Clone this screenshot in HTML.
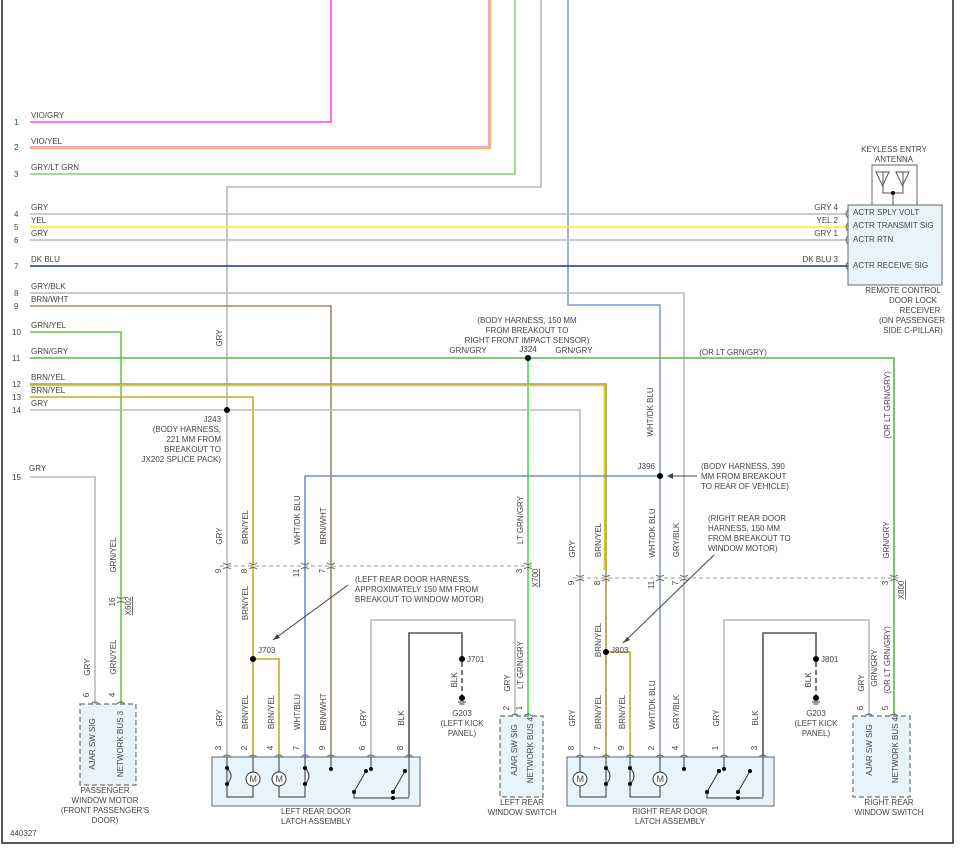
<!DOCTYPE html>
<html><head><meta charset="utf-8"><style>
html,body{margin:0;padding:0;background:#fff}
svg{display:block;font-family:"Liberation Sans",sans-serif}
text{font-size:8px;fill:#444}
.w{fill:none;stroke-width:1.6}
</style></head><body>
<svg width="961" height="850" viewBox="0 0 961 850" xmlns="http://www.w3.org/2000/svg">
<rect x="2" y="-2" width="951" height="845" fill="none" stroke="#222" stroke-width="1.5"/>

<!-- wires top -->
<polyline class="w" stroke="#ff44ee" points="30,122 331,122 331,0"/>
<polyline class="w" stroke="#ff88cc" points="30,147 489,147 489,0"/>
<polyline class="w" stroke="#f0c060" stroke-width="0.6" points="30,148.5 490.5,148.5 490.5,0"/>
<polyline class="w" stroke="#77dd66" points="30,174 515,174 515,0"/>
<polyline class="w" stroke="#bbb" points="541,0 541,187 227,187 227,757"/>
<polyline class="w" stroke="#8899dd" points="568,0 568,305 660,305 660,757"/>
<polyline class="w" stroke="#bbb" points="30,214 848,214"/>
<polyline class="w" stroke="#ffee22" points="30,227 848,227"/>
<polyline class="w" stroke="#bbb" points="30,240 848,240"/>
<polyline class="w" stroke="#223399" points="30,266 848,266"/>
<polyline class="w" stroke="#bbb" points="30,293 684,293 684,757"/>
<polyline class="w" stroke="#998866" points="30,306 331,306 331,757"/>
<polyline class="w" stroke="#66cc44" points="30,332 121,332 121,704"/>
<polyline class="w" stroke="#55bb44" points="30,358 894,358 894,716"/>
<polyline class="w" stroke="#44dd44" points="528,358 528,716"/>
<polyline class="w" stroke="#aa9944" points="30,384 606,384 606,757"/>
<polyline class="w" stroke="#ddcc22" stroke-width="0.8" points="30,385.5 604.5,385.5 604.5,570"/>
<polyline class="w" stroke="#ccaa22" points="30,397 253,397 253,757"/>
<polyline class="w" stroke="#bbb" points="30,410 580,410 580,757"/>
<polyline class="w" stroke="#bbb" points="30,477 95,477 95,704"/>
<polyline class="w" stroke="#7788dd" points="660,476 305,476 305,757"/>
<polyline class="w" stroke="#ccaa22" points="253,659 279,659 279,757"/>
<polyline class="w" stroke="#ccaa22" points="606,652 630,652 630,757"/>
<polyline class="w" stroke="#bbb" points="371,757 371,620 515,620 515,716"/>
<polyline class="w" stroke="#555" points="409,757 409,633 462,633 462,659"/>
<line x1="462" y1="662" x2="462" y2="696" stroke="#555" stroke-width="1.6" stroke-dasharray="5,3"/>
<polyline class="w" stroke="#bbb" points="724,757 724,620 869,620 869,716"/>
<polyline class="w" stroke="#555" points="763,757 763,633 816,633 816,659"/>
<line x1="816" y1="662" x2="816" y2="696" stroke="#555" stroke-width="1.6" stroke-dasharray="5,3"/>

<!-- dashed connector lines -->
<line x1="220" y1="566" x2="535" y2="566" stroke="#999" stroke-dasharray="4,3"/>
<line x1="573" y1="578" x2="900" y2="578" stroke="#999" stroke-dasharray="4,3"/>

<!-- splice dots -->
<g fill="#000">
<circle cx="227" cy="410" r="3"/><circle cx="528" cy="358" r="3"/><circle cx="660" cy="476" r="3"/>
<circle cx="253" cy="659" r="3"/><circle cx="606" cy="652" r="3"/>
<circle cx="462" cy="659" r="3"/><circle cx="816" cy="659" r="3"/>
<circle cx="462" cy="698" r="3"/><circle cx="816" cy="698" r="3"/>
</g>
<g stroke="#333" stroke-width="1">
<line x1="458" y1="702" x2="466" y2="702"/><line x1="459.5" y1="704" x2="464.5" y2="704"/>
<line x1="812" y1="702" x2="820" y2="702"/><line x1="813.5" y1="704" x2="818.5" y2="704"/>
</g>

<!-- connector marks -->
<g fill="none" stroke="#666" stroke-width="1">
<path d="M223,563 q4,3 8,0 M223,569 q4,-3 8,0"/>
<path d="M249,563 q4,3 8,0 M249,569 q4,-3 8,0"/>
<path d="M301,563 q4,3 8,0 M301,569 q4,-3 8,0"/>
<path d="M327,563 q4,3 8,0 M327,569 q4,-3 8,0"/>
<path d="M524,563 q4,3 8,0 M524,569 q4,-3 8,0"/>
<path d="M576,575 q4,3 8,0 M576,581 q4,-3 8,0"/>
<path d="M602,575 q4,3 8,0 M602,581 q4,-3 8,0"/>
<path d="M656,575 q4,3 8,0 M656,581 q4,-3 8,0"/>
<path d="M680,575 q4,3 8,0 M680,581 q4,-3 8,0"/>
<path d="M890,575 q4,3 8,0 M890,581 q4,-3 8,0"/>
<path d="M117,597 q4,3 8,0 M117,603 q4,-3 8,0"/>
<!-- pin arcs above boxes -->
<path d="M91,704 q4,-4 8,0 M117,704 q4,-4 8,0"/>
<path d="M511,716 q4,-4 8,0 M524,716 q4,-4 8,0 M865,716 q4,-4 8,0 M890,716 q4,-4 8,0"/>
<path d="M223,757 q4,-4 8,0 M249,757 q4,-4 8,0 M275,757 q4,-4 8,0 M301,757 q4,-4 8,0 M327,757 q4,-4 8,0 M367,757 q4,-4 8,0 M405,757 q4,-4 8,0"/>
<path d="M576,757 q4,-4 8,0 M602,757 q4,-4 8,0 M626,757 q4,-4 8,0 M656,757 q4,-4 8,0 M680,757 q4,-4 8,0 M720,757 q4,-4 8,0 M759,757 q4,-4 8,0"/>
<path d="M848,210 q-4,4 0,8 M848,223 q-4,4 0,8 M848,236 q-4,4 0,8 M848,262 q-4,4 0,8"/>
</g>

<!-- boxes -->
<rect x="848" y="205" width="94" height="80" fill="#e8f4fc" stroke="#666"/>
<rect x="872" y="165" width="45" height="40" fill="#fff" stroke="#666"/>
<g fill="none" stroke="#555" stroke-width="1">
<path d="M876,172 h13 l-6.5,14 z M883,172 v14 M896,172 h13 l-6.5,14 z M903,172 v14"/>
<path d="M883,186 v7 h20 v-7 M893,193 v12"/>
</g>
<circle cx="893" cy="193" r="2" fill="#000"/>

<rect x="212" y="757" width="208" height="49" fill="#e8f4fc" stroke="#666"/>
<rect x="567" y="757" width="207" height="49" fill="#e8f4fc" stroke="#666"/>
<rect x="80" y="704" width="56" height="81" fill="#e8f4fc" stroke="#888" stroke-width="1.5" stroke-dasharray="5,3"/>
<rect x="500" y="716" width="43" height="81" fill="#e8f4fc" stroke="#888" stroke-width="1.5" stroke-dasharray="5,3"/>
<rect x="853" y="716" width="57" height="81" fill="#e8f4fc" stroke="#888" stroke-width="1.5" stroke-dasharray="5,3"/>

<!-- latch internals left -->
<g fill="none" stroke="#333" stroke-width="1">
<path d="M227,757 v40 h26 v-40"/>
<path d="M227,768 q8,8 0,16"/>
<circle cx="253" cy="779" r="7" fill="#fff"/>
<path d="M279,757 v40 h26 v-40"/>
<circle cx="279" cy="779" r="7" fill="#fff"/>
<path d="M305,768 q8,8 0,16"/>
<path d="M331,757 v12 M371,757 v12 M409,757 v40 M354,792 v6 h55 M354,792 l12,-21 M393,792 l12,-21"/>
</g>
<g fill="#000">
<circle cx="227" cy="768" r="2"/><circle cx="227" cy="784" r="2"/><circle cx="305" cy="768" r="2"/><circle cx="305" cy="784" r="2"/>
<circle cx="331" cy="769" r="2"/><circle cx="371" cy="769" r="2"/><circle cx="354" cy="792" r="2"/><circle cx="366" cy="771" r="2"/><circle cx="393" cy="792" r="2"/><circle cx="405" cy="771" r="2"/><circle cx="393" cy="798" r="2"/>
</g>
<text x="249.5" y="782" style="font-size:9px">M</text><text x="275.5" y="782" style="font-size:9px">M</text>

<!-- latch internals right -->
<g fill="none" stroke="#333" stroke-width="1">
<path d="M580,757 v40 h26 v-40"/>
<circle cx="580" cy="779" r="7" fill="#fff"/>
<path d="M606,768 q8,8 0,16"/>
<path d="M630,757 v40 h30 v-40"/>
<path d="M630,768 q8,8 0,16"/>
<circle cx="660" cy="779" r="7" fill="#fff"/>
<path d="M684,757 v12 M724,757 v12 M763,757 v40 M707,792 v6 h56 M707,792 l12,-21 M738,792 l12,-21"/>
</g>
<g fill="#000">
<circle cx="606" cy="768" r="2"/><circle cx="606" cy="784" r="2"/><circle cx="630" cy="768" r="2"/><circle cx="630" cy="784" r="2"/>
<circle cx="684" cy="769" r="2"/><circle cx="724" cy="769" r="2"/><circle cx="707" cy="792" r="2"/><circle cx="719" cy="771" r="2"/><circle cx="738" cy="792" r="2"/><circle cx="750" cy="771" r="2"/><circle cx="738" cy="798" r="2"/>
</g>
<text x="576.5" y="782" style="font-size:9px">M</text><text x="656.5" y="782" style="font-size:9px">M</text>

<!-- arrows -->
<g stroke="#444" fill="none"><line x1="348" y1="585" x2="273" y2="640"/><line x1="714" y1="555" x2="623" y2="643"/><line x1="697" y1="476" x2="669" y2="476"/></g>
<g fill="#444"><path d="M273,640 l7,-2 l-3,-4 z"/><path d="M623,643 l7,-3 l-3,-3 z"/><path d="M667,476 l6,-3 v6 z"/></g>

<!-- left labels -->
<g>
<text x="14" y="125">1</text><text x="14" y="150">2</text><text x="14" y="177">3</text><text x="14" y="217">4</text><text x="14" y="230">5</text><text x="14" y="243">6</text><text x="14" y="269">7</text><text x="14" y="296">8</text><text x="14" y="309">9</text><text x="12" y="335">10</text><text x="12" y="361">11</text><text x="12" y="387">12</text><text x="12" y="400">13</text><text x="12" y="413">14</text><text x="12" y="480">15</text>
<text x="31" y="118">VIO/GRY</text><text x="31" y="144">VIO/YEL</text><text x="31" y="170">GRY/LT GRN</text>
<text x="31" y="210">GRY</text><text x="31" y="223">YEL</text><text x="31" y="236">GRY</text><text x="31" y="262">DK BLU</text>
<text x="31" y="289">GRY/BLK</text><text x="31" y="302">BRN/WHT</text><text x="31" y="328">GRN/YEL</text><text x="31" y="354">GRN/GRY</text>
<text x="31" y="380">BRN/YEL</text><text x="31" y="393">BRN/YEL</text><text x="31" y="406">GRY</text><text x="29" y="471">GRY</text>
</g>
<g text-anchor="end">
<text x="838" y="210">GRY  4</text><text x="838" y="223">YEL  2</text><text x="838" y="236">GRY  1</text><text x="838" y="262">DK BLU  3</text>
<text x="221" y="422">J243</text><text x="221" y="432">(BODY HARNESS,</text><text x="221" y="442">221 MM FROM</text><text x="221" y="452">BREAKOUT TO</text><text x="221" y="462">JX202 SPLICE PACK)</text>
<text x="655" y="469">J396</text>
</g>
<g text-anchor="middle">
<text x="894" y="152">KEYLESS ENTRY</text><text x="894" y="162">ANTENNA</text>
<text x="903" y="293">REMOTE CONTROL</text><text x="913" y="303">DOOR LOCK</text><text x="920" y="313">RECEIVER</text><text x="912" y="323">(ON PASSENGER</text><text x="913" y="333">SIDE C-PILLAR)</text>
<text x="527" y="323">(BODY HARNESS, 150 MM</text><text x="527" y="333">FROM BREAKOUT TO</text><text x="527" y="343">RIGHT FRONT IMPACT SENSOR)</text>
<text x="528" y="352">J324</text><text x="468" y="353">GRN/GRY</text><text x="574" y="353">GRN/GRY</text>
<text x="733" y="355">(OR LT GRN/GRY)</text>
<text x="316" y="814">LEFT REAR DOOR</text><text x="316" y="824">LATCH ASSEMBLY</text>
<text x="670" y="814">RIGHT REAR DOOR</text><text x="670" y="824">LATCH ASSEMBLY</text>
<text x="522" y="805">LEFT REAR</text><text x="522" y="815">WINDOW SWITCH</text>
<text x="889" y="805">RIGHT REAR</text><text x="889" y="815">WINDOW SWITCH</text>
<text x="105" y="793">PASSENGER</text><text x="105" y="803">WINDOW MOTOR</text><text x="105" y="813">(FRONT PASSENGER'S</text><text x="105" y="823">DOOR)</text>
<text x="462" y="716">G203</text><text x="462" y="726">(LEFT KICK</text><text x="462" y="736">PANEL)</text>
<text x="816" y="716">G203</text><text x="816" y="726">(LEFT KICK</text><text x="816" y="736">PANEL)</text>
</g>
<text x="853" y="215">ACTR SPLY VOLT</text><text x="853" y="228">ACTR TRANSMIT SIG</text><text x="853" y="242">ACTR RTN</text><text x="853" y="268">ACTR RECEIVE SIG</text>
<text x="355" y="582">(LEFT REAR DOOR HARNESS,</text><text x="355" y="592">APPROXIMATELY 150 MM FROM</text><text x="355" y="602">BREAKOUT TO WINDOW MOTOR)</text>
<text x="701" y="469">(BODY HARNESS, 390</text><text x="701" y="479">MM FROM BREAKOUT</text><text x="701" y="489">TO REAR OF VEHICLE)</text>
<text x="708" y="521">(RIGHT REAR DOOR</text><text x="708" y="531">HARNESS, 150 MM</text><text x="708" y="541">FROM BREAKOUT TO</text><text x="708" y="551">WINDOW MOTOR)</text>
<text x="258" y="653">J703</text><text x="611" y="653">J803</text><text x="467" y="662">J701</text><text x="821" y="662">J801</text>
<text x="10" y="836">440327</text>

<!-- vertical labels -->
<g text-anchor="middle">
<text transform="translate(222,338) rotate(-90)">GRY</text>
<text transform="translate(653,412) rotate(-90)">WHT/DK BLU</text>
<text transform="translate(890,405) rotate(-90)">(OR LT GRN/GRY)</text>
<text transform="translate(222,536) rotate(-90)">GRY</text>
<text transform="translate(248,527) rotate(-90)">BRN/YEL</text>
<text transform="translate(300,520) rotate(-90)">WHT/DK BLU</text>
<text transform="translate(326,526) rotate(-90)">BRN/WHT</text>
<text transform="translate(523,520) rotate(-90)">LT GRN/GRY</text>
<text transform="translate(575,549) rotate(-90)">GRY</text>
<text transform="translate(601,540) rotate(-90)">BRN/YEL</text>
<text transform="translate(655,533) rotate(-90)">WHT/DK BLU</text>
<text transform="translate(679,540) rotate(-90)">GRY/BLK</text>
<text transform="translate(889,540) rotate(-90)">GRN/GRY</text>
<text transform="translate(116,555) rotate(-90)">GRN/YEL</text>
<text transform="translate(248,603) rotate(-90)">BRN/YEL</text>
<text transform="translate(601,640) rotate(-90)">BRN/YEL</text>
<text transform="translate(90,667) rotate(-90)">GRY</text>
<text transform="translate(116,657) rotate(-90)">GRN/YEL</text>
<text transform="translate(510,683) rotate(-90)">GRY</text>
<text transform="translate(523,665) rotate(-90)">LT GRN/GRY</text>
<text transform="translate(457,680) rotate(-90)">BLK</text>
<text transform="translate(811,680) rotate(-90)">BLK</text>
<text transform="translate(864,683) rotate(-90)">GRY</text>
<text transform="translate(877,668) rotate(-90)">GRN/GRY</text>
<text transform="translate(890,660) rotate(-90)">(OR LT GRN/GRY)</text>
<text transform="translate(222,718) rotate(-90)">GRY</text>
<text transform="translate(248,712) rotate(-90)">BRN/YEL</text>
<text transform="translate(274,712) rotate(-90)">BRN/YEL</text>
<text transform="translate(300,712) rotate(-90)">WHT/BLU</text>
<text transform="translate(326,712) rotate(-90)">BRN/WHT</text>
<text transform="translate(366,718) rotate(-90)">GRY</text>
<text transform="translate(404,718) rotate(-90)">BLK</text>
<text transform="translate(575,718) rotate(-90)">GRY</text>
<text transform="translate(601,712) rotate(-90)">BRN/YEL</text>
<text transform="translate(625,712) rotate(-90)">BRN/YEL</text>
<text transform="translate(655,705) rotate(-90)">WHT/DK BLU</text>
<text transform="translate(679,712) rotate(-90)">GRY/BLK</text>
<text transform="translate(719,718) rotate(-90)">GRY</text>
<text transform="translate(758,718) rotate(-90)">BLK</text>
<text transform="translate(95,744) rotate(-90)">AJAR SW SIG</text>
<text transform="translate(123,744) rotate(-90)">NETWORK BUS 3</text>
<text transform="translate(517,750) rotate(-90)">AJAR SW SIG</text>
<text transform="translate(533,750) rotate(-90)">NETWORK BUS 4</text>
<text transform="translate(872,750) rotate(-90)">AJAR SW SIG</text>
<text transform="translate(898,750) rotate(-90)">NETWORK BUS 4</text>
<!-- pin numbers -->
<text transform="translate(221,571) rotate(-90)">9</text>
<text transform="translate(247,571) rotate(-90)">8</text>
<text transform="translate(299,573) rotate(-90)">11</text>
<text transform="translate(325,571) rotate(-90)">7</text>
<text transform="translate(522,571) rotate(-90)">3</text>
<text transform="translate(574,583) rotate(-90)">9</text>
<text transform="translate(600,583) rotate(-90)">8</text>
<text transform="translate(654,585) rotate(-90)">11</text>
<text transform="translate(678,583) rotate(-90)">7</text>
<text transform="translate(888,583) rotate(-90)">3</text>
<text transform="translate(115,602) rotate(-90)">16</text>
<text transform="translate(538,578) rotate(-90)" style="text-decoration:underline">X700</text>
<text transform="translate(904,590) rotate(-90)" style="text-decoration:underline">X800</text>
<text transform="translate(131,606) rotate(-90)" style="text-decoration:underline">X602</text>
<text transform="translate(89,695) rotate(-90)">6</text><text transform="translate(115,695) rotate(-90)">4</text>
<text transform="translate(509,708) rotate(-90)">2</text><text transform="translate(522,708) rotate(-90)">1</text>
<text transform="translate(863,708) rotate(-90)">6</text><text transform="translate(888,708) rotate(-90)">5</text>
<text transform="translate(221,748) rotate(-90)">3</text><text transform="translate(247,748) rotate(-90)">2</text><text transform="translate(273,748) rotate(-90)">4</text><text transform="translate(299,748) rotate(-90)">7</text><text transform="translate(325,748) rotate(-90)">9</text><text transform="translate(365,748) rotate(-90)">6</text><text transform="translate(403,748) rotate(-90)">8</text>
<text transform="translate(574,748) rotate(-90)">8</text><text transform="translate(600,748) rotate(-90)">7</text><text transform="translate(624,748) rotate(-90)">9</text><text transform="translate(654,748) rotate(-90)">2</text><text transform="translate(678,748) rotate(-90)">4</text><text transform="translate(718,748) rotate(-90)">1</text><text transform="translate(757,748) rotate(-90)">3</text>
</g>
</svg>
</body></html>
